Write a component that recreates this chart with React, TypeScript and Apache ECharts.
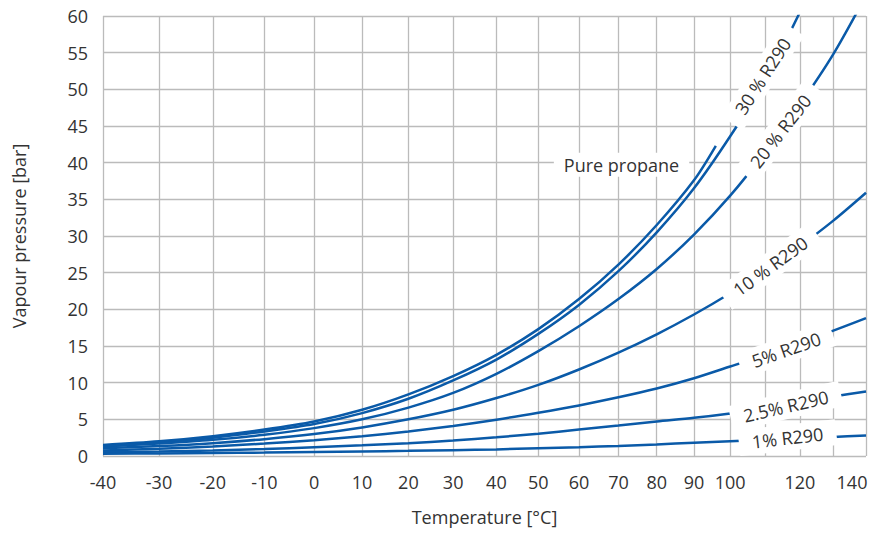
import React, { useEffect, useRef } from "react";
import * as echarts from "echarts";

const KELVIN = 273.15;

// x grid (°C) and tick labels (°C)
const gridTemps = [-40, -30, -20, -10, 0, 10, 20, 30, 40, 50, 60, 70, 80, 90, 100, 110, 120, 130, 140];
const tickLabelTemps = [-40, -30, -20, -10, 0, 10, 20, 30, 40, 50, 60, 70, 80, 90, 100, 120, 140];

// Temperatures (°C) at which curves are sampled
const propaneTemps = [-40, -30, -20, -10, 0, 10, 20, 30, 40, 50, 60, 70, 80, 90, 96];
const temps30 = [-40, -30, -20, -10, 0, 10, 20, 30, 40, 50, 60, 70, 80, 90, 100, 110, 120];
const mixTemps = [-40, -30, -20, -10, 0, 10, 20, 30, 40, 50, 60, 70, 80, 90, 100, 110, 120, 130, 140];

// Vapour pressure values (bar)
const purePropane = [1.5, 2.0, 2.7, 3.6, 4.7, 6.3, 8.4, 10.9, 13.8, 17.3, 21.4, 26.1, 31.5, 37.6, 42.3];
const r290_30 = [1.35, 1.85, 2.5, 3.35, 4.35, 5.85, 7.8, 10.3, 13.15, 16.65, 20.6, 25.2, 30.5, 36.5, 43.6, 51.3, 60.5];
const r290_20 = [1.3, 1.7, 2.2, 2.9, 3.8, 5.0, 6.6, 8.6, 11.2, 14.3, 17.7, 21.4, 25.5, 30.2, 35.5, 41.5, 47.9, 54.8, 62.8];
const r290_10 = [1.05, 1.35, 1.75, 2.3, 3.0, 3.9, 5.0, 6.3, 7.9, 9.7, 11.8, 14.1, 16.6, 19.3, 22.2, 25.3, 28.6, 32.1, 35.9];
const r290_5 = [0.75, 1.0, 1.3, 1.7, 2.15, 2.7, 3.35, 4.1, 4.95, 5.9, 6.9, 8.0, 9.2, 10.6, 12.2, 13.8, 15.5, 17.1, 18.8];
const r290_2_5 = [0.5, 0.6, 0.75, 0.95, 1.2, 1.45, 1.75, 2.1, 2.55, 3.05, 3.6, 4.15, 4.7, 5.2, 5.8, 6.5, 7.3, 8.1, 8.8];
const r290_1 = [0.3, 0.35, 0.4, 0.47, 0.55, 0.62, 0.7, 0.8, 0.9, 1.05, 1.2, 1.38, 1.58, 1.8, 2.0, 2.2, 2.4, 2.6, 2.8];

// Curve label texts and their anchor (°C, bar) and angle
const labelTexts = ["Pure propane", "30 % R290", "20 % R290", "10 % R290", "5% R290", "2.5% R290", "1% R290"];
const labelTemps = [70.8, 109.2, 114.3, 111.4, 116.0, 115.9, 116.4];
const labelPressures = [39.7, 51.8, 44.3, 25.9, 14.5, 6.8, 2.5];
const labelAngles = [0, 57, 52, 36, 19.5, 13, 6.5];

const FONT = "'Open Sans', 'Noto Sans', sans-serif";
const BLUE = "#0a5aa8";
const TEXT = "#333333";
const GRID = "#bbbbbb";

const toK = (t: number) => t + KELVIN;

export default function App() {
  const ref = useRef<HTMLDivElement>(null);

  useEffect(() => {
    document.body.style.margin = "0";
    if (!ref.current) return;
    const chart = echarts.init(ref.current, undefined, { renderer: "svg" });

    const curves: [number[], number[]][] = [
      [propaneTemps, purePropane],
      [temps30, r290_30],
      [mixTemps, r290_20],
      [mixTemps, r290_10],
      [mixTemps, r290_5],
      [mixTemps, r290_2_5],
      [mixTemps, r290_1],
    ];

    const lineSeries = curves.map(([ts, vs], i) => ({
      type: "line",
      name: labelTexts[i],
      data: ts.map((t, j) => [toK(t), vs[j]]),
      showSymbol: false,
      smooth: 0.3,
      silent: true,
      z: 2,
      lineStyle: { color: BLUE, width: 2.5 },
      itemStyle: { color: BLUE },
    }));

    const labelSeries = {
      type: "scatter",
      silent: true,
      z: 5,
      symbolSize: 1,
      itemStyle: { color: "transparent", opacity: 1 },
      data: labelTexts.map((txt, i) => ({
        value: [toK(labelTemps[i]), labelPressures[i]],
        label: {
          show: true,
          formatter: txt,
          position: "inside",
          rotate: labelAngles[i],
          fontFamily: FONT,
          fontSize: 18,
          color: TEXT,
          opacity: 1,
          backgroundColor: "#ffffff",
          padding: i === 0 ? [3, 10] : [4, 13],
        },
      })),
    };

    chart.setOption({
      animation: false,
      grid: { left: 103, right: 19, top: 16, bottom: 78, containLabel: false },
      xAxis: {
        type: "log",
        min: toK(-40),
        max: toK(140),
        name: "Temperature [°C]",
        nameLocation: "middle",
        nameGap: 52,
        nameTextStyle: { fontFamily: FONT, fontSize: 18, color: TEXT },
        axisLine: { show: false },
        axisTick: { show: false, customValues: gridTemps.map(toK) },
        splitLine: { show: true, lineStyle: { color: GRID, width: 1.3 } },
        axisLabel: {
          customValues: tickLabelTemps.map(toK),
          fontFamily: FONT,
          fontSize: 18,
          color: TEXT,
          margin: 17,
          formatter: (v: number) => {
            const t = Math.round(v - KELVIN);
            return t === 140 ? "{r|140}" : String(t);
          },
          rich: {
            r: { fontFamily: FONT, fontSize: 18, color: TEXT, padding: [0, 28, 0, 0] },
          },
        },
      },
      yAxis: {
        type: "value",
        min: 0,
        max: 60,
        interval: 5,
        name: "Vapour pressure [bar]",
        nameLocation: "middle",
        nameGap: 75,
        nameTextStyle: { fontFamily: FONT, fontSize: 18, color: TEXT },
        axisLine: { show: false },
        axisTick: { show: false },
        splitLine: { show: true, lineStyle: { color: GRID, width: 1.3 } },
        axisLabel: { fontFamily: FONT, fontSize: 18, color: TEXT, margin: 15 },
      },
      series: [...lineSeries, labelSeries],
    });

    return () => chart.dispose();
  }, []);

  return <div ref={ref} style={{ width: 885, height: 534 }} />;
}
